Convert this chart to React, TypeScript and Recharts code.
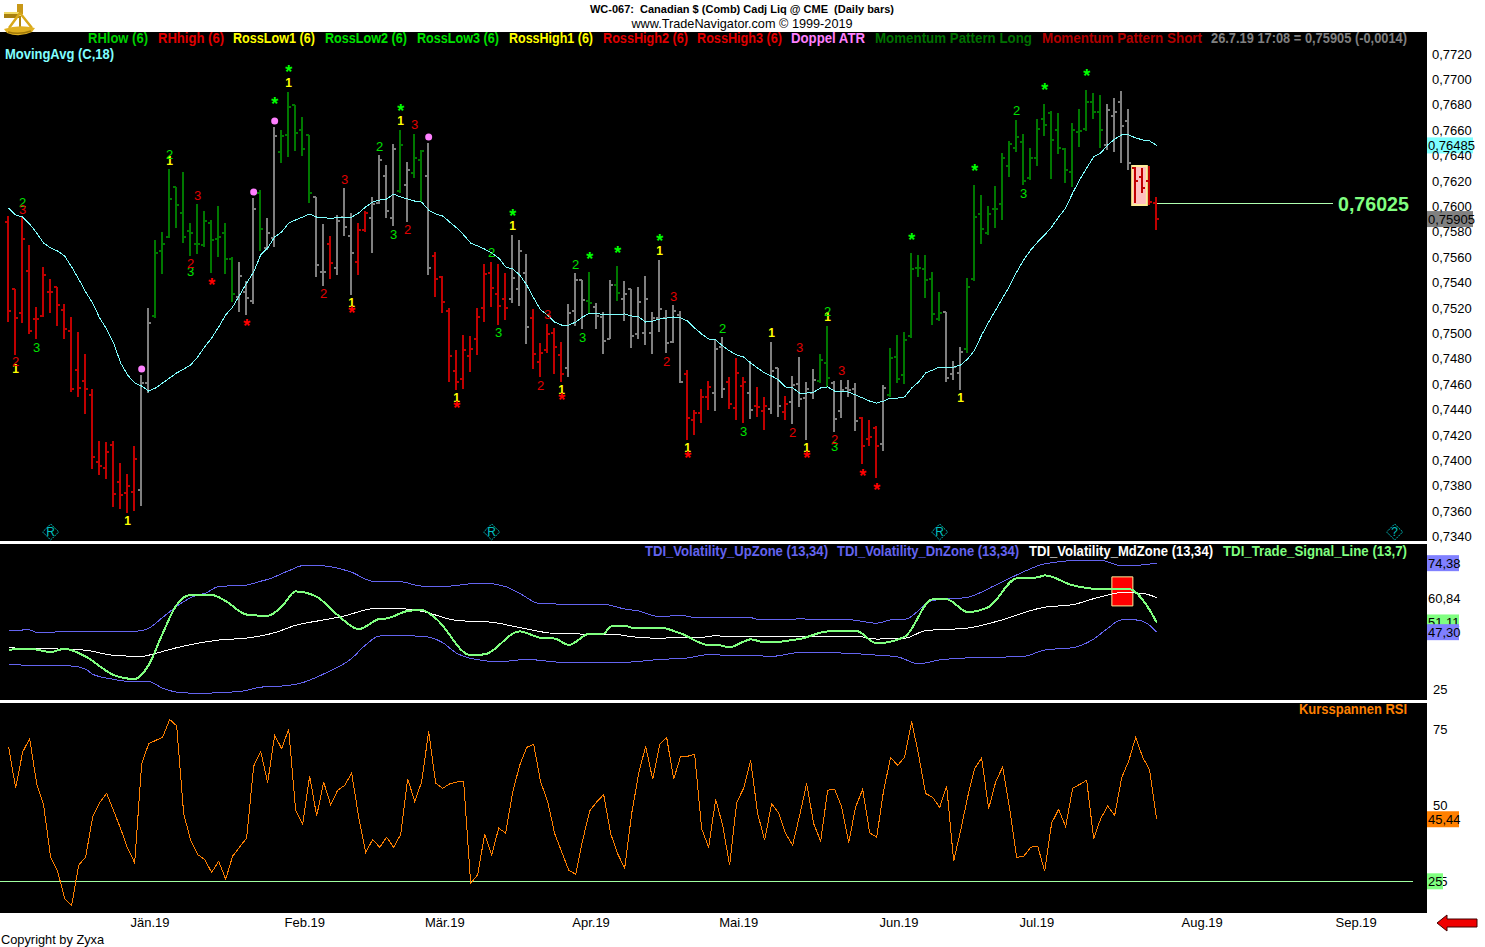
import React from "react";
import { ComposedChart, Bar, Line, Scatter, XAxis, YAxis, ReferenceArea, ReferenceDot } from "recharts";

const FONT = '"Liberation Sans", Arial, sans-serif';
const X_DOMAIN = [-1.2381, 202.62];

// ---- price pane ----
const highs = [0.75929,0.75354,0.75921,0.75701,0.75213,0.75528,0.75433,0.7537,0.75236,0.75134,0.75016,0.74843,0.74567,0.74157,0.74149,0.74157,0.73984,0.73898,0.74118,0.74677,0.75205,0.7574,0.75803,0.76299,0.76157,0.76276,0.75874,0.76024,0.75969,0.75898,0.76008,0.75874,0.75606,0.75567,0.75417,0.76071,0.76134,0.75913,0.7663,0.76606,0.76906,0.76803,0.76709,0.76567,0.76079,0.75866,0.75772,0.75937,0.7615,0.75953,0.75874,0.75969,0.76079,0.76409,0.76331,0.76496,0.76606,0.76354,0.76575,0.76449,0.76504,0.75646,0.75457,0.75205,0.74874,0.74992,0.74984,0.75205,0.75551,0.75567,0.75551,0.7548,0.7578,0.7574,0.7563,0.75197,0.74929,0.75079,0.75047,0.74937,0.75236,0.7548,0.75425,0.75488,0.75244,0.75173,0.75425,0.75536,0.75417,0.75354,0.7537,0.75457,0.75173,0.75583,0.75189,0.75228,0.75181,0.74716,0.74401,0.74567,0.7463,0.74961,0.74976,0.74661,0.74811,0.74661,0.74787,0.74583,0.74504,0.74937,0.74732,0.74512,0.74669,0.74819,0.74622,0.74724,0.74843,0.75063,0.7463,0.74638,0.74638,0.74614,0.74346,0.74323,0.74276,0.74598,0.7489,0.74992,0.75016,0.75638,0.75622,0.75622,0.75488,0.75331,0.75173,0.74787,0.74898,0.75441,0.76173,0.76094,0.76008,0.76165,0.76425,0.7652,0.76685,0.76575,0.76465,0.76693,0.76811,0.76756,0.7674,0.76465,0.76661,0.76772,0.76921,0.76898,0.76882,0.76811,0.76858,0.76913,0.76772,0.76315,0.76307,0.76323,0.76079];
const lows = [0.75094,0.74835,0.75087,0.75,0.74961,0.75134,0.75165,0.75063,0.74961,0.74543,0.74504,0.7437,0.73937,0.7389,0.73858,0.73638,0.73622,0.73591,0.73606,0.73646,0.74535,0.75126,0.75472,0.75756,0.75835,0.75716,0.75614,0.7563,0.75685,0.7548,0.75606,0.75472,0.75252,0.75173,0.7515,0.75236,0.75654,0.75661,0.75685,0.76346,0.76394,0.76441,0.76402,0.76031,0.75449,0.75378,0.75433,0.75465,0.75772,0.75307,0.75465,0.75803,0.75638,0.76024,0.75913,0.7585,0.7611,0.75882,0.76228,0.76039,0.75465,0.75291,0.75165,0.74622,0.74559,0.74567,0.74701,0.74835,0.75094,0.75213,0.75071,0.7511,0.75244,0.7522,0.74921,0.74724,0.74661,0.7485,0.74685,0.74622,0.74661,0.75063,0.75039,0.75158,0.75039,0.74843,0.74961,0.7526,0.75102,0.7489,0.74961,0.74913,0.74843,0.75016,0.7485,0.74929,0.74614,0.74165,0.74205,0.74299,0.74401,0.74394,0.74496,0.74409,0.74323,0.74299,0.74331,0.74346,0.74244,0.7437,0.74346,0.74323,0.74291,0.74425,0.74165,0.74488,0.74614,0.74583,0.74228,0.74339,0.74504,0.74236,0.73976,0.74118,0.73866,0.74079,0.74504,0.74614,0.74606,0.74969,0.75449,0.75284,0.75071,0.75102,0.74622,0.74638,0.74559,0.7485,0.75417,0.75709,0.7578,0.75835,0.75898,0.76236,0.76433,0.76173,0.76213,0.76323,0.76559,0.7622,0.76417,0.76189,0.76157,0.76472,0.76598,0.76693,0.76465,0.76449,0.76433,0.76346,0.76291,0.76031,0.7611,0.76016,0.75819];
const opens = [0.75882,0.75354,0.75165,0.75496,0.75118,0.75142,0.75331,0.7537,0.75189,0.75024,0.74716,0.7463,0.7452,0.73992,0.73945,0.74126,0.73835,0.73748,0.73756,0.73771,0.74614,0.75142,0.75654,0.75764,0.76157,0.75953,0.75811,0.75709,0.75701,0.75874,0.75748,0.75795,0.75591,0.75291,0.75331,0.7526,0.7611,0.75677,0.75756,0.76433,0.76567,0.76803,0.76606,0.76567,0.76079,0.75488,0.75709,0.7552,0.75921,0.75772,0.75567,0.75819,0.75913,0.76031,0.76244,0.75913,0.76126,0.76173,0.76268,0.7637,0.76244,0.75614,0.75449,0.75181,0.74709,0.74646,0.74827,0.74961,0.75205,0.7548,0.75315,0.75276,0.75276,0.75354,0.7548,0.75126,0.7478,0.74874,0.75008,0.74835,0.74732,0.75181,0.75425,0.7526,0.75213,0.75134,0.74961,0.75386,0.75276,0.75354,0.75,0.75008,0.75008,0.75126,0.75126,0.74937,0.7515,0.74685,0.74323,0.74378,0.74504,0.74536,0.74898,0.74622,0.74417,0.7459,0.74535,0.74433,0.74394,0.74409,0.74732,0.74386,0.74465,0.74606,0.74496,0.74535,0.7463,0.74771,0.74614,0.74394,0.74575,0.74567,0.74339,0.74173,0.7426,0.74134,0.7452,0.74819,0.74677,0.74984,0.7552,0.75512,0.75433,0.75118,0.75173,0.74685,0.74693,0.74882,0.75433,0.75945,0.75795,0.75984,0.76024,0.76323,0.76465,0.76512,0.76228,0.76386,0.76693,0.7674,0.76606,0.76457,0.76276,0.76591,0.76614,0.76827,0.76748,0.76488,0.76717,0.76827,0.76677,0.76307,0.76236,0.76205,0.76031];
const closes = [0.75181,0.75126,0.75748,0.75024,0.75118,0.75465,0.75331,0.75228,0.75039,0.74567,0.74575,0.74567,0.74032,0.73961,0.74071,0.7374,0.73732,0.73803,0.74016,0.74614,0.75087,0.75638,0.75709,0.76063,0.76016,0.75764,0.75795,0.75709,0.7589,0.7574,0.75764,0.75591,0.75315,0.75457,0.75284,0.75984,0.75827,0.75795,0.76559,0.76559,0.76787,0.76583,0.76457,0.7611,0.75543,0.75488,0.75559,0.7589,0.75843,0.75638,0.75819,0.75953,0.76024,0.7637,0.75969,0.76457,0.76488,0.76291,0.76386,0.76441,0.7552,0.75433,0.75252,0.74827,0.74622,0.74874,0.74882,0.75134,0.75472,0.75362,0.7522,0.75205,0.75441,0.75654,0.75055,0.74843,0.7485,0.75,0.74898,0.74685,0.75165,0.75425,0.75268,0.75244,0.75142,0.74945,0.75386,0.75323,0.75315,0.74984,0.75252,0.75276,0.75126,0.75197,0.74929,0.75181,0.74622,0.74339,0.74378,0.74504,0.74583,0.74882,0.74567,0.74449,0.74693,0.74622,0.74401,0.74425,0.74433,0.74709,0.74433,0.74449,0.74598,0.74488,0.74567,0.74638,0.74795,0.74654,0.74331,0.74559,0.74559,0.74315,0.74118,0.74189,0.74118,0.74575,0.74811,0.74646,0.74953,0.75512,0.7552,0.75425,0.75158,0.75165,0.74654,0.7474,0.74858,0.7537,0.75921,0.75827,0.75945,0.75984,0.76386,0.76496,0.76551,0.76205,0.76386,0.76614,0.76646,0.76528,0.76465,0.76291,0.76606,0.76598,0.76827,0.76748,0.76606,0.76764,0.76748,0.76638,0.76346,0.76205,0.7615,0.76039,0.75905];
const barKinds = "RRRRRRRRRRRRRRRRRRRNNGGGGGGGGGGGGNNNGNNGGGGGNNRNNNRRNNNNGNGGNRRRRRRRRRRRNNNRRRRRNNNGNNNGNNNNNNNNNRRRRNNRRRNRRNNRNNNNGGNNNNRRRNGGGGGGGGNNNGGGGGGGGGGGGGGGGGGGGNNNNRRRR".split("");
const movingAvg = [0.75992,0.75937,0.75921,0.75866,0.75795,0.75716,0.75677,0.75653,0.75614,0.75528,0.75433,0.75331,0.75244,0.75126,0.75039,0.74929,0.74771,0.74677,0.74614,0.7459,0.74551,0.74575,0.74614,0.74654,0.74693,0.74724,0.74756,0.74819,0.74898,0.74969,0.75055,0.7515,0.75213,0.75307,0.75402,0.75488,0.75622,0.75677,0.75764,0.75803,0.75874,0.75898,0.75921,0.75945,0.75921,0.75921,0.75906,0.75921,0.75921,0.75921,0.75953,0.76,0.76039,0.76055,0.76063,0.76102,0.76079,0.76063,0.76047,0.76039,0.75976,0.75945,0.75929,0.75882,0.75835,0.7578,0.75716,0.75693,0.75669,0.75637,0.75599,0.75528,0.75512,0.75465,0.75386,0.75284,0.75189,0.7515,0.75094,0.7507,0.7507,0.75094,0.75134,0.75165,0.75165,0.7515,0.7515,0.7515,0.75158,0.75142,0.75134,0.75094,0.75102,0.75118,0.75126,0.75134,0.75126,0.75102,0.75047,0.75,0.74961,0.74953,0.74906,0.74866,0.74835,0.74819,0.74771,0.74732,0.74693,0.74669,0.74638,0.74583,0.74575,0.74535,0.74535,0.74543,0.74575,0.74583,0.74551,0.74551,0.74543,0.7452,0.74496,0.74472,0.74456,0.74472,0.74496,0.74496,0.74504,0.74575,0.74622,0.74693,0.74716,0.7474,0.7474,0.7474,0.74756,0.74803,0.74874,0.74992,0.75094,0.75189,0.75284,0.75378,0.75488,0.75583,0.75661,0.75724,0.7578,0.75843,0.75921,0.75992,0.7611,0.76213,0.76307,0.76394,0.76425,0.76488,0.76535,0.76567,0.76567,0.76544,0.76528,0.7652,0.76485];
const priceTicks = [0.772,0.77,0.768,0.766,0.764,0.762,0.76,0.758,0.756,0.754,0.752,0.75,0.748,0.746,0.744,0.742,0.74,0.738,0.736,0.734];
const targetLevel = 0.76025;
const targetLine = [{ i: 164, v: targetLevel }, { i: 189.2, v: targetLevel }];

type P = [number, number];
const yellowOnes: P[] = [[1,0.74724],[17,0.73527],[23,0.76362],[40,0.76976],[49,0.75244],[56,0.76677],[64,0.74496],[72,0.7585],[79,0.74559],[93,0.75654],[97,0.74102],[109,0.75008],[114,0.74102],[117,0.75134],[136,0.74496]];
const greenTwos: P[] = [[2,0.76039],[23,0.76417],[53,0.7648],[69,0.75638],[81,0.75551],[102,0.75047],[117,0.75181],[144,0.76756]];
const greenThrees: P[] = [[4,0.7489],[26,0.75496],[55,0.75787],[70,0.75008],[82,0.74976],[105,0.74236],[118,0.74118],[145,0.7611]];
const redTwos: P[] = [[1,0.7478],[26,0.75559],[45,0.75315],[57,0.75819],[76,0.74598],[94,0.74787],[112,0.74228],[118,0.74173]];
const redThrees: P[] = [[2,0.75984],[27,0.76094],[48,0.7622],[58,0.76646],[77,0.7515],[95,0.75299],[113,0.7489],[119,0.74709]];
const greenStars: P[] = [[38,0.76835],[40,0.77087],[56,0.7678],[72,0.75953],[83,0.75614],[87,0.75661],[93,0.75756],[129,0.75764],[138,0.76307],[148,0.76945],[154,0.77055]];
const redStars: P[] = [[29,0.75409],[34,0.75087],[49,0.75189],[64,0.74441],[79,0.74504],[97,0.74047],[114,0.74047],[122,0.73906],[124,0.73795]];
const pinkDots: P[] = [[19,0.74724],[35,0.76118],[38,0.76677],[60,0.76551]];
const rolloverIdx = [6, 69, 133, 198];
const rolloverMark = ["R", "R", "R", "?"];
const rolloverLevel = 0.73441;

const headerNames = ["RHlow (6)","RHhigh (6)","RossLow1 (6)","RossLow2 (6)","RossLow3 (6)","RossHigh1 (6)","RossHigh2 (6)","RossHigh3 (6)","Doppel ATR","Momentum Pattern Long","Momentum Pattern Short","26.7.19 17:08 = 0,75905 (-0,0014)"];
const headerLefts = [88,158,233,325,417,509,603,697,791,875,1042,1211];
const headerWidths = [60,66,82,82,82,84,85,85,74,157,160,196];
const headerColors = ["#00d000","#e00000","#ffff00","#00e000","#00e000","#ffff00","#e00000","#e00000","#ff80ff","#007000","#b00000","#808080"];

// ---- TDI pane (index, value) ----
const tdiUp: P[] = [[0,47.9],[3,48.2],[4,47.2],[9,47.5],[16,47.4],[19,47.9],[20,48.8],[22,53.1],[25,59.3],[27,61.9],[28,62.5],[30,65.2],[34,65.8],[36,67.3],[37,68],[40,71.4],[42,73.4],[44,73.5],[47,72.4],[49,70.8],[52,67.3],[56,67.1],[59,65.4],[63,65.4],[66,66.3],[68,66.5],[71,65.2],[73,62.5],[76,58.4],[85,58.2],[88,56.4],[90,55.6],[93,53.4],[96,53.9],[98,53.1],[106,53],[107,52.3],[112,52.3],[113,52.6],[115,52.2],[120,52.2],[124,50.8],[126,52.1],[128,52.3],[132,59.7],[137,61],[141,65.8],[142,67.1],[145,71],[148,74.1],[154,75.6],[156,75.5],[159,73.4],[161,73.5],[164,74.38]];
const tdiDn: P[] = [[0,34.5],[6,34.2],[9,34],[11,32.8],[12,30.8],[15,28.8],[17,28],[20,27.9],[22,25.3],[24,23.8],[27,23.3],[33,24],[36,25.7],[40,26.4],[42,27.5],[45,30.9],[49,37],[51,42.3],[53,45.8],[56,45.9],[59,45.7],[62,43.2],[64,39],[66,37],[70,35.7],[74,36.6],[79,35.5],[88,35.5],[93,36.6],[97,37.2],[100,38.5],[103,38.2],[106,38.2],[109,37.8],[113,39.3],[116,39.3],[124,38.3],[127,37.6],[130,34.9],[133,36.4],[137,37.2],[140,37.4],[145,37.8],[148,40.3],[152,41.2],[155,44.6],[157,48.8],[159,52.1],[161,52.1],[163,50],[164,47.3]];
const tdiMid: P[] = [[0,41.1],[5,41],[7,40.7],[11,40.2],[15,38.2],[19,37.8],[21,39],[24,41.2],[30,44.2],[34,45],[38,47.1],[41,50],[45,52.1],[48,53.7],[52,56.5],[55,56.7],[59,55.5],[64,51.9],[69,51.2],[73,49.1],[78,46.8],[87,46.3],[89,45.5],[93,44.9],[96,45.4],[99,45.3],[101,45.9],[103,45.5],[106,45.5],[111,45.5],[121,45.7],[124,44.6],[128,44.9],[131,47.9],[137,48.9],[141,51.4],[148,57.1],[152,58.1],[156,61.2],[159,62.8],[162,62.5],[164,60.84]];
const tdiSignal: P[] = [[0,40.4],[3,40.8],[6,39.5],[8,40.8],[11,37.7],[15,30.5],[18,28.9],[20,34.4],[22,46.8],[24,58],[26,61.9],[29,61.9],[31,59.5],[34,54.2],[37,53.7],[39,57.3],[41,63.3],[44,61.2],[47,54],[50,48.5],[53,52.5],[54,52.7],[57,55.6],[59,56],[61,52.7],[66,38.3],[68,38.6],[73,47.6],[76,45.1],[78,44.8],[80,42.3],[83,46.7],[85,46.7],[86,49.5],[88,49.9],[89,49.1],[93,49.1],[96,46.8],[100,42.3],[101,42.4],[103,41.4],[105,43.6],[106,44.5],[108,43.3],[113,44.6],[117,47.6],[121,47.9],[124,42.9],[128,45.5],[132,60.2],[134,60.2],[137,55.2],[140,57.2],[144,68.4],[147,68.8],[148,69.6],[152,65.7],[156,64.2],[160,64.2],[163,56],[164,51.11]];
const tdiNames = ["TDI_Volatility_UpZone (13,34)","TDI_Volatility_DnZone (13,34)","TDI_Volatility_MdZone (13,34)","TDI_Trade_Signal_Line (13,7)"];
const tdiNameLefts = [645,837,1029,1223];
const tdiNameWidths = [183,182,184,184];
const tdiNameColors = ["#6464f0","#6464f0","#ffffff","#80ff80"];

// ---- RSI pane ----
const rsi = [69.2,55.7,67.6,72,57.2,50,32.8,28.3,19.3,17.1,30.3,33,46.2,50.9,54,48.2,42.3,35.8,31.1,63.7,70.3,71.4,72.5,78.3,76.2,47.3,38.5,33.8,32.2,27.9,31.6,25.7,33.3,36.3,39.3,62.9,67.8,57.5,73.1,68.7,75.1,48.4,43.7,59.7,46.5,57.7,50.2,55,56.6,60.6,46.2,34.4,38.8,36.2,39.5,36.2,40.4,58.8,51.3,57.7,74.4,57.3,55.6,57.1,57.7,57.9,24.3,27.2,40.5,33.6,42.5,40.9,54.4,63.2,69.1,70.1,57.7,51.3,40.7,34.7,28.7,27.3,38.5,48.2,51.1,53.6,40.7,34.1,29.3,47.3,60.5,69.5,58.6,70.1,72.4,58.6,66.2,66.2,66.8,42.3,36.2,52,43.4,30.3,50.9,55.7,64.8,47.3,38.5,50.6,47.5,40.7,36.9,46.7,57.2,44,38.2,55,55.3,49.5,37.7,49.5,55.3,41,39.5,55,65.8,63.2,65.9,77.7,66.5,53.9,52.7,49.3,56.4,31.6,41.8,52.8,62.1,65.6,48.9,57.7,62.7,48.9,32.9,33.2,36.2,36.6,28.3,44.2,48.7,43,55.7,56.9,58.3,39.1,45.6,49.8,46.7,59.1,64.6,72.4,65.9,61.6,45.44];
const rsiFloor = [{ i: -1.23, v: 25 }, { i: 200.6, v: 25 }];
const monthIdx = [20.2, 42.3, 62.3, 83.2, 104.3, 127.2, 146.9, 170.5, 192.5];
const monthNames = ["Jän.19","Feb.19","Mär.19","Apr.19","Mai.19","Jun.19","Jul.19","Aug.19","Sep.19"];

const barTable = highs.map((h, i) => ({ i, range: [lows[i], h], high: h, low: lows[i], open: opens[i], close: closes[i], kind: barKinds[i] }));
const pts = (a: P[]) => a.map(([i, v]) => ({ i, v }));
const marks = (a: P[]) => a.map(([i, p]) => ({ i, p }));
const rsiTable = rsi.map((v, i) => ({ i, v }));
const maTable = movingAvg.map((v, i) => ({ i, v }));
const rolloverTable = rolloverIdx.map((i, k) => ({ i, p: rolloverLevel, mark: rolloverMark[k] }));

const KIND_COLOR: Record<string, string> = { R: "#c00000", G: "#007800", N: "#808080" };

function OhlcShape(props: any) {
  const { x, y, width, height, payload } = props;
  if (height == null) return null;
  const c = KIND_COLOR[payload.kind];
  const cx = Math.round(x + width / 2);
  const span = payload.high - payload.low;
  const yOf = (v: number) => Math.round(y + ((payload.high - v) / span) * height);
  return (
    <g shapeRendering="crispEdges" fill={c}>
      <rect x={cx - 1} y={y} width={2} height={height} />
      <rect x={cx - 3} y={yOf(payload.open) - 1} width={3} height={2} />
      <rect x={cx + 1} y={yOf(payload.close) - 1} width={2} height={2} />
    </g>
  );
}

const textShape = (label: string, color: string, size: number, shift: number, weight: string) => (p: any) => (
  <text x={p.cx} y={p.cy + shift} textAnchor="middle" fontFamily={FONT} fontSize={size} fontWeight={weight} fill={color}>{label}</text>
);
const PinkDot = (p: any) => <circle cx={p.cx} cy={p.cy} r={3.5} fill="#ff80ff" />;
const RolloverShape = (p: any) => (
  <g>
    <polygon points={`${p.cx},${p.cy - 8} ${p.cx + 8},${p.cy} ${p.cx},${p.cy + 8} ${p.cx - 8},${p.cy}`} fill="none" stroke="#00c0c0" strokeDasharray="2 1" />
    <text x={p.cx} y={p.cy + 4} textAnchor="middle" fontFamily={FONT} fontSize={12} fill="#00c0c0">{p.payload?.mark ?? p.mark}</text>
  </g>
);

const badge = (label: string, bg: string, w: number) => (p: any) => (
  <g>
    {bg !== "none" && <rect x={p.cx} y={p.cy - 8} width={w} height={16} fill={bg} />}
    <text x={p.cx + 1} y={p.cy + 5} fontFamily={FONT} fontSize={13} fill="#000">{label}</text>
  </g>
);

const priceFmt = (v: number) => v.toFixed(4).replace(".", ",");
const monthFmt = (v: number) => monthNames[monthIdx.indexOf(v)] ?? "";
const axisTick = { fontFamily: FONT, fontSize: 13, fill: "#000" };
const PriceTick = (p: any) => (
  <text x={p.x} y={p.y + 4} fontFamily={FONT} fontSize={13} fill="#000">{priceFmt(p.payload.value)}</text>
);
// The last-value badge on the RSI scale sits over the axis label of the same level.
const RSI_FLOOR = 25;
const RsiTick = (p: any) => (
  <g fontFamily={FONT} fontSize={13} fill="#000">
    <text x={p.x} y={p.y + 4.5}>{p.payload.value}</text>
    {p.payload.value === RSI_FLOOR && (
      <g>
        <rect x={p.x - 6} y={p.y - 8} width={16} height={16} fill="#80ff80" />
        <text x={p.x - 5} y={p.y + 4.5}>{RSI_FLOOR}</text>
      </g>
    )}
  </g>
);

function Label({ left, base, color, width, children }: any) {
  return (
    <text x={left} y={base} fill={color} fontFamily={FONT} fontSize={14} fontWeight="bold" textLength={width} lengthAdjust="spacingAndGlyphs" xmlSpace="preserve">{children}</text>
  );
}

function Pane({ top, height }: any) {
  return <div style={{ position: "absolute", left: 0, top, width: 1427, height, background: "#000" }} />;
}

const ChartBox = ({ top, children }: any) => <div style={{ position: "absolute", left: 0, top }}>{children}</div>;

export default function App() {
  const stroke = { dot: false, isAnimationActive: false, shapeRendering: "crispEdges", legendType: "none" as const };
  const smooth = { ...stroke, type: "monotone" as const };
  const noMargin = { top: 0, right: 0, bottom: 0, left: 0 };
  return (
    <div style={{ position: "relative", width: 1485, height: 947, background: "#fff", overflow: "hidden" }}>
      <style>{`body{margin:0;background:#fff}`}</style>
      <Pane top={32} height={509} />
      <Pane top={544} height={156} />
      <Pane top={703} height={210} />

      {/* header */}
      <svg style={{ position: "absolute", left: 2, top: 2 }} width={34} height={34} viewBox="0 0 34 34">
        <rect x={15} y={2} width={6} height={10} fill="#c89818" />
        <rect x={2} y={10} width={15} height={6} fill="#a88010" />
        <rect x={2} y={10} width={15} height={2} fill="#f0d860" />
        <path d="M18 11 L30 26 M18 11 L7 26" stroke="#d8a818" strokeWidth={2.5} fill="none" />
        <path d="M18 14 L18 26" stroke="#b08810" strokeWidth={2} fill="none" />
        <path d="M2 27 Q17 22 33 26 L30 30 Q17 36 5 31 Z" fill="#e0b020" />
        <path d="M6 30 Q17 33 29 29" stroke="#a07808" strokeWidth={1.5} fill="none" />
      </svg>
      <div style={{ position: "absolute", left: 442, width: 600, top: 3, textAlign: "center", fontFamily: FONT, fontSize: 11, fontWeight: "bold", whiteSpace: "pre", color: "#000" }}>{"WC-067:  Canadian $ (Comb) Cadj Liq @ CME  (Daily bars)"}</div>
      <div style={{ position: "absolute", left: 442, width: 600, top: 17, textAlign: "center", fontFamily: FONT, fontSize: 12.7, color: "#000" }}>www.TradeNavigator.com © 1999-2019</div>

      {/* price pane */}
      <ChartBox top={32}>
        <ComposedChart width={1485} height={521} data={barTable} margin={{ top: 0, right: 0, bottom: 12, left: 0 }}>
          <XAxis dataKey="i" type="number" domain={X_DOMAIN} hide allowDataOverflow />
          <YAxis orientation="right" width={58} domain={[0.7337, 0.77378]} ticks={priceTicks} interval={0} allowDataOverflow tick={PriceTick} axisLine={false} tickLine={false} tickSize={0} tickMargin={5} />
          <ReferenceArea x1={160.5} x2={162.6} y1={0.76016} y2={0.76323} fill="#ffc0c0" fillOpacity={1} stroke="#ffee99" strokeWidth={2} />
          <Bar dataKey="range" barSize={2} isAnimationActive={false} shape={OhlcShape} legendType="none" />
          <Line data={maTable} dataKey="v" stroke="#80ffff" strokeWidth={1} {...stroke} />
          <Line data={targetLine} dataKey="v" stroke="#b0ffb0" strokeWidth={1} {...stroke} />
          <Scatter data={marks(yellowOnes)} dataKey="p" isAnimationActive={false} shape={textShape("1", "#ffff00", 12, 4, "bold")} />
          <Scatter data={marks(greenTwos)} dataKey="p" isAnimationActive={false} shape={textShape("2", "#00e000", 13, 4.5, "normal")} />
          <Scatter data={marks(greenThrees)} dataKey="p" isAnimationActive={false} shape={textShape("3", "#00e000", 13, 4.5, "normal")} />
          <Scatter data={marks(redTwos)} dataKey="p" isAnimationActive={false} shape={textShape("2", "#e00000", 13, 4.5, "normal")} />
          <Scatter data={marks(redThrees)} dataKey="p" isAnimationActive={false} shape={textShape("3", "#e00000", 13, 4.5, "normal")} />
          <Scatter data={marks(greenStars)} dataKey="p" isAnimationActive={false} shape={textShape("*", "#00ff00", 18, 9, "bold")} />
          <Scatter data={marks(redStars)} dataKey="p" isAnimationActive={false} shape={textShape("*", "#ff0000", 18, 9, "bold")} />
          <Scatter data={marks(pinkDots)} dataKey="p" isAnimationActive={false} shape={PinkDot} />
          <Scatter data={rolloverTable} dataKey="p" isAnimationActive={false} shape={RolloverShape} />
          <ReferenceDot x={189.9} y={targetLevel} r={0} ifOverflow="visible" shape={(p: any) => <text x={p.cx} y={p.cy + 7} fontFamily={FONT} fontSize={20} fontWeight="bold" fill="#80ff80" textLength={71} lengthAdjust="spacingAndGlyphs">0,76025</text>} />
          <ReferenceDot x={X_DOMAIN[1]} y={0.76485} ifOverflow="visible" shape={badge("0,76485", "#80ffff", 46)} />
          <ReferenceDot x={X_DOMAIN[1]} y={0.75905} ifOverflow="visible" shape={badge("0,75905", "#808080", 46)} />
        </ComposedChart>
      </ChartBox>

      {/* TDI pane */}
      <ChartBox top={544}>
        <ComposedChart width={1485} height={156} margin={noMargin}>
          <XAxis dataKey="i" type="number" domain={X_DOMAIN} hide allowDataOverflow />
          <YAxis orientation="right" width={58} domain={[20.68, 81.9]} ticks={[25]} allowDataOverflow tick={axisTick} axisLine={false} tickLine={false} tickSize={0} tickMargin={6} />
          <Line data={pts(tdiUp)} dataKey="v" stroke="#6464f0" strokeWidth={1} {...smooth} />
          <Line data={pts(tdiDn)} dataKey="v" stroke="#6464f0" strokeWidth={1} {...smooth} />
          <Line data={pts(tdiMid)} dataKey="v" stroke="#ffffff" strokeWidth={1} {...smooth} />
          <ReferenceArea x1={157.6} x2={160.6} y1={57.6} y2={69} fill="#ff0000" fillOpacity={1} stroke="#ffee99" strokeWidth={1} />
          <Line data={pts(tdiSignal)} dataKey="v" stroke="#80ff80" strokeWidth={2} {...smooth} />
          <ReferenceDot x={X_DOMAIN[1]} y={74.38} ifOverflow="visible" shape={badge("74,38", "#8080ff", 32)} />
          <ReferenceDot x={X_DOMAIN[1]} y={60.84} ifOverflow="visible" shape={badge("60,84", "none", 32)} />
          <ReferenceDot x={X_DOMAIN[1]} y={51.11} ifOverflow="visible" shape={badge("51,11", "#80ff80", 32)} />
          <ReferenceDot x={X_DOMAIN[1]} y={47.3} ifOverflow="visible" shape={badge("47,30", "#8080ff", 32)} />
        </ComposedChart>
      </ChartBox>

      {/* RSI pane */}
      <ChartBox top={703}>
        <ComposedChart width={1485} height={244} margin={noMargin}>
          <XAxis dataKey="i" type="number" domain={X_DOMAIN} ticks={monthIdx} interval={0} height={34} allowDataOverflow tickFormatter={monthFmt} tick={axisTick} axisLine={false} tickLine={false} tickSize={0} tickMargin={5} />
          <YAxis orientation="right" width={58} domain={[14.56, 83.73]} ticks={[25, 50, 75]} interval={0} allowDataOverflow tick={RsiTick} axisLine={false} tickLine={false} tickSize={0} tickMargin={6} />
          <Line data={rsiFloor} dataKey="v" stroke="#a0ffa0" strokeWidth={1} {...stroke} />
          <Line data={rsiTable} dataKey="v" stroke="#ff8000" strokeWidth={1} {...stroke} />
          <ReferenceDot x={X_DOMAIN[1]} y={45.44} ifOverflow="visible" shape={badge("45,44", "#ff8000", 32)} />
        </ComposedChart>
      </ChartBox>

      {/* legends */}
      <svg style={{ position: "absolute", left: 0, top: 0, pointerEvents: "none" }} width={1485} height={947}>
        {headerNames.map((n, k) => <Label key={n} left={headerLefts[k]} base={43} color={headerColors[k]} width={headerWidths[k]}>{n}</Label>)}
        <Label left={5} base={59} color="#80ffff" width={109}>MovingAvg (C,18)</Label>
        {tdiNames.map((n, k) => <Label key={n} left={tdiNameLefts[k]} base={556} color={tdiNameColors[k]} width={tdiNameWidths[k]}>{n}</Label>)}
        <Label left={1299} base={714} color="#ff8000" width={108}>Kursspannen RSI</Label>
      </svg>
      <div style={{ position: "absolute", left: 1, top: 932, fontFamily: FONT, fontSize: 12.8, color: "#000" }}>Copyright by Zyxa</div>
      <svg style={{ position: "absolute", left: 1436, top: 914 }} width={44} height={18}>
        <polygon points="1,9 11,1 11,5 41,5 41,13 11,13 11,17" fill="#f00000" stroke="#400000" strokeWidth={1} />
      </svg>
    </div>
  );
}
